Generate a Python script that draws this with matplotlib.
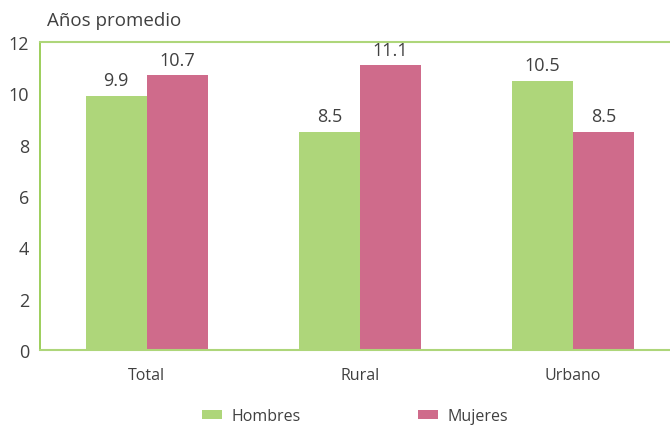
import matplotlib.pyplot as plt
import numpy as np

categories = ["Total", "Rural", "Urbano"]
hombres = [9.9, 8.5, 10.5]
mujeres = [10.7, 11.1, 8.5]
yticks = [0, 2, 4, 6, 8, 10, 12]

GREEN = "#AED67A"
PINK = "#CF6B8B"
SPINE = "#8CC63F"
TEXT = "#404040"

plt.rcParams["font.family"] = ["Open Sans", "DejaVu Sans"]

fig = plt.figure(figsize=(6.7, 4.27), dpi=100)
ax = fig.add_axes([40 / 670, 76 / 427, 1 - 40 / 670, 308 / 427])

x = np.arange(len(categories))
w = 0.286
b1 = ax.bar(x - w / 2, hombres, w, color=GREEN, label="Hombres")
b2 = ax.bar(x + w / 2, mujeres, w, color=PINK, label="Mujeres")

for bars, vals in ((b1, hombres), (b2, mujeres)):
    for r, v in zip(bars, vals):
        ax.text(r.get_x() + r.get_width() / 2, v + 0.25, f"{v:.1f}",
                ha="center", va="bottom", fontsize=13, color=TEXT)

ax.set_xlim(-0.5, 2.455)
ax.set_ylim(0, 12)
ax.set_yticks(yticks)
ax.set_xticks(x)
ax.set_xticklabels(categories)
ax.tick_params(axis="both", length=0, colors=TEXT)
ax.tick_params(axis="y", pad=8, labelsize=13)
ax.tick_params(axis="x", pad=12, labelsize=11.5)

ax.spines["left"].set_color(SPINE)
ax.spines["left"].set_linewidth(1.2)
ax.spines["top"].set_color(GREEN)
ax.spines["top"].set_linewidth(1.5)
ax.spines["bottom"].set_color(GREEN)
ax.spines["bottom"].set_linewidth(1.5)
ax.spines["right"].set_visible(False)

fig.text(47 / 670, 1 - 21 / 427, "Años promedio", fontsize=13.5, color=TEXT,
         va="center", ha="left")

leg = fig.legend(handles=[b1, b2], loc="center", bbox_to_anchor=(0.53, 1 - 417 / 427),
                 ncol=2, frameon=False, fontsize=11.5, handlelength=1.25,
                 handleheight=0.55, columnspacing=7.3, handletextpad=0.6)
for t in leg.get_texts():
    t.set_color(TEXT)

fig.savefig("out.png", dpi=100)
